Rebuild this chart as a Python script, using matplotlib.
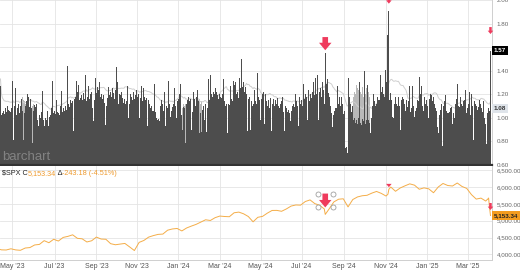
import numpy as np
import pandas as pd
import matplotlib
matplotlib.use("Agg")
import matplotlib.pyplot as plt
from matplotlib.transforms import offset_copy

plt.rcParams['font.family'] = ['Liberation Sans', 'DejaVu Sans']

# daily ratio bars (one per weekday, ending on the last date)
ratio = [
    # Apr - Jul '23
    1.27, 1.02, 1.04, 1.06, 1.03, 1.08, 1.05, 1.10, 1.07, 1.04, 1.06,
    1.05, 1.08, 1.31, 0.81, 1.10, 1.25, 1.02, 1.08, 1.12, 1.04,
    1.10, 1.16, 1.06, 0.81, 1.04, 1.10, 1.14, 1.20, 1.18, 1.12, 1.09,
    1.16, 1.08, 0.79, 1.06, 1.11, 1.09, 1.12, 0.98, 0.93, 1.02,
    1.00, 1.05, 1.23, 0.98, 0.93, 1.00, 0.98, 1.06, 0.97, 0.93, 1.01,
    1.02, 1.08, 1.31, 1.04, 1.06, 1.03, 1.15, 1.05, 1.04, 1.02,
    1.10, 1.23, 1.05, 1.08, 1.06, 1.10, 1.18, 1.07, 1.44, 1.12, 1.09,
    1.15, 1.13, 1.14, 0.89, 1.16, 1.18, 1.31, 1.22, 1.28, 1.15,
    1.17, 1.19, 1.15, 1.21, 1.12, 1.16, 1.36, 1.14, 1.18, 1.27, 1.16,
    1.20, 1.22, 1.08, 0.97, 1.15, 1.34, 1.21, 1.26, 1.24, 1.30,
    1.18, 1.20, 1.16, 1.19, 1.15, 1.13, 0.94, 1.10, 1.17, 1.26, 1.19,
    1.22, 1.18, 1.25, 1.21, 1.16, 1.24, 1.43, 1.30, 1.12, 1.20, 1.19, 1.22, 1.17,
    # Oct '23 - Feb '24
    1.15, 1.13, 1.16, 1.12, 1.14, 1.27, 1.00, 1.12, 1.20, 1.18, 1.15,
    1.22, 1.16, 1.19, 1.24, 1.18, 1.20, 1.00, 1.17, 1.27, 1.16,
    1.14, 1.25, 1.18, 1.15, 1.17, 0.93, 1.15, 1.12, 1.08, 1.10, 1.06,
    1.06, 1.29, 1.05, 1.00, 0.98, 0.99, 0.97, 1.01, 1.10, 1.15,
    1.12, 1.06, 1.22, 0.93, 1.10, 1.08, 1.31, 1.12, 1.01, 1.06, 1.09,
    1.12, 1.25, 1.10, 1.00, 1.14, 1.16, 1.18, 1.20, 1.29, 1.02,
    0.90, 1.09, 1.08, 0.79, 1.12, 1.15, 1.18, 1.14, 1.16, 0.90, 1.05,
    1.22, 1.16, 1.10, 1.18, 1.06, 1.24, 1.14, 0.87, 1.04, 0.88,
    1.07, 1.10, 0.98, 1.12, 0.88, 1.08, 1.33, 1.15, 1.36, 1.20, 1.18,
    1.22, 1.20, 1.25, 1.18, 1.22, 1.19, 1.16, 1.20, 1.18, 1.17,
    1.20, 1.33, 1.14, 1.10, 1.12, 0.87, 1.12, 1.11, 1.27, 1.16, 1.14,
    1.31, 1.28, 1.05, 1.30, 1.20, 1.22, 1.17, 1.34, 1.25, 1.50, 1.26, 1.30, 1.22,
    # Mar - Sep '24
    1.26, 1.20, 0.89, 1.16, 1.18, 0.90, 1.14, 1.10, 1.12, 1.24, 1.15,
    1.14, 1.12, 1.38, 1.18, 1.15, 0.98, 1.16, 1.20, 1.22, 0.95,
    1.20, 1.14, 1.10, 1.15, 1.08, 1.17, 0.89, 1.12, 1.16, 0.93, 1.10,
    1.15, 1.12, 1.17, 1.10, 1.08, 1.12, 1.14, 1.18, 1.05, 0.89,
    1.10, 1.08, 1.05, 1.07, 1.04, 0.97, 1.06, 1.08, 1.10, 1.12, 1.09,
    1.20, 1.14, 1.10, 0.93, 1.18, 1.12, 1.15, 1.10, 1.29, 1.16,
    1.20, 1.18, 0.98, 1.24, 1.14, 1.20, 1.17, 1.16, 1.22, 1.30, 1.19,
    1.34, 1.20, 1.36, 0.98, 1.22, 1.25, 1.18, 1.30, 1.24, 1.12, 1.55,
    1.29, 1.33, 1.21, 1.18, 1.06, 1.10, 1.04, 0.92, 1.02, 1.06, 1.08,
    1.08, 1.27, 1.12, 1.18, 1.10, 1.18, 1.12, 1.03, 1.06, 0.74,
    0.75, 0.70, 1.34, 1.30, 1.18, 1.12, 1.05, 1.10, 0.98, 1.00, 0.96,
    0.98, 0.95, 1.00, 1.30, 0.96, 0.94, 0.99, 0.97, 1.40, 0.95, 0.98, 0.96, 1.28,
    # Oct '24 - Apr '25
    0.98, 0.96, 0.87, 1.00, 1.10, 1.20, 1.14, 1.10, 1.12, 1.18, 1.15,
    1.15, 1.36, 1.22, 1.26, 1.20, 1.18, 1.41, 1.25, 1.30, 1.70,
    1.91, 1.15, 1.21, 1.15, 1.01, 1.00, 1.12, 1.18, 1.12, 1.10,
    1.18, 1.10, 0.90, 1.15, 1.18, 1.16, 1.12, 1.01, 1.06, 1.15, 1.09,
    1.14, 1.27, 1.05, 1.08, 1.27, 1.10, 1.01, 1.06, 1.08, 1.15,
    1.14, 1.35, 1.20, 1.27, 1.10, 1.06, 1.15, 1.18, 1.12, 1.15, 1.10,
    1.00, 1.16, 1.20, 1.19, 1.14, 1.18, 1.12, 1.08, 1.06, 0.92,
    0.87, 1.02, 1.07, 1.12, 0.76, 0.87, 1.10, 1.14, 1.19, 1.06, 1.04,
    1.04, 1.05, 1.08, 1.09, 0.95, 1.04, 1.00, 1.12, 1.16, 1.29,
    1.10, 1.09, 1.18, 1.12, 0.84, 1.10, 1.14, 1.15, 1.24, 1.04, 1.08,
    1.12, 1.22, 1.02, 1.20, 1.10, 0.81, 1.14, 1.12, 1.10, 1.07, 1.09,
    1.15, 1.10, 1.12, 1.08, 1.05, 1.14, 1.00, 0.95, 0.78, 1.04, 1.08, 1.06, 1.57,
]
end_date = "2025-04-04"
ratio_ma_last = 1.08

# second (light) bar series, shown only on a few stretches
light_starts = ["2023-05-15", "2023-05-31", "2024-01-08", "2024-01-31", "2024-09-16"]
light_vals = [
    [1.16, 1.18, 1.15, 1.14, 1.12],
    [1.10, 1.12],
    [1.08, 1.12, 1.10, 1.12],
    [1.15, 1.16, 1.12, 1.14],
    [1.18, 1.22, 1.20, 1.28, 1.25, 1.24, 1.30, 1.22, 1.20,
     1.26, 1.18, 1.22, 1.20, 1.25, 1.27, 1.20, 1.22, 1.18],
]

# S&P 500 weekly closes (Fridays) plus a few daily points
spx_weekly = [
    4137, 4133, 4169, 4136, 4124, 4191, 4205, 4282, 4298, 4409, 4348, 4450,
    4398, 4505, 4536, 4582, 4478, 4464, 4370, 4406, 4515, 4457, 4450, 4320,
    4288, 4308, 4327, 4224, 4117, 4358, 4415, 4514, 4559, 4595, 4604, 4719,
    4755, 4770,
    4697, 4784, 4840, 4891, 4959, 5027, 5006, 5089, 5137, 5124, 5117, 5234,
    5254, 5204, 5123, 4967, 5100, 5128, 5223, 5303, 5305, 5278, 5347, 5432,
    5465, 5460, 5567, 5615, 5505, 5459, 5347, 5344, 5554, 5635, 5648, 5408,
    5626, 5703, 5738, 5751, 5815, 5865, 5808, 5729, 5996, 5870, 5969, 6032,
    6090, 6051, 5930, 5971,
    5942, 5827, 5997, 6101, 6041, 6026, 6115, 6013, 5955, 5770, 5639, 5668,
    5581, 5153.34,
]
spx_extra_dates = ["2023-04-13", "2024-08-05", "2024-11-05", "2024-11-06",
                   "2025-03-31", "2025-04-01", "2025-04-02", "2025-04-03"]
spx_extra_vals = [4146, 5186, 5783, 5929, 5612, 5633, 5671, 5397]
spx_last = 5153.34
spx_chg = -243.18
spx_pct = -4.51

events = ["2024-08-05", "2024-11-06", "2025-04-04"]

month_starts = ["2023-05-01", "2023-07-01", "2023-09-01", "2023-11-01",
                "2024-01-01", "2024-03-01", "2024-05-01", "2024-07-01",
                "2024-09-01", "2024-11-01", "2025-01-01", "2025-03-01"]
month_labels = ["May '23", "Jul '23", "Sep '23", "Nov '23", "Jan '24", "Mar '24",
                "May '24", "Jul '24", "Sep '24", "Nov '24", "Jan '25", "Mar '25"]
top_ticks = [0.6, 0.8, 1.0, 1.2, 1.4, 1.6, 1.8, 2.0]
bottom_ticks = [4000, 4500, 5000, 5500, 6000, 6500]

dark = "#4d4d4d"
light = "#b9b9b9"
orange = "#f4ad48"
red = "#ef3b5d"
grid_c = "#e4e4e4"

dates = pd.bdate_range(end=end_date, periods=len(ratio))
x = np.arange(len(dates))


def pos(d):
    return int(dates.searchsorted(pd.Timestamp(d)))


spx = pd.Series(spx_weekly, index=pd.date_range("2023-04-14", end_date, freq="W-FRI"))
spx = pd.concat([spx, pd.Series(spx_extra_vals, index=pd.to_datetime(spx_extra_dates))]).sort_index()
spx_x = dates.searchsorted(spx.index)

fig = plt.figure(figsize=(5.2, 2.72), dpi=100)
ax1 = fig.add_axes([0, 1 - 165 / 272, 492 / 520, 165 / 272])
ax2 = fig.add_axes([0, 12 / 272, 492 / 520, 94 / 272])

xt = [pos(m) for m in month_starts]

# top panel
for s, vals in zip(light_starts, light_vals):
    i0 = pos(s)
    ax1.bar(np.arange(i0, i0 + len(vals)), vals, width=1.05, color=light, linewidth=0, zorder=1)
ma = pd.Series(ratio).rolling(20, min_periods=1).mean()
ax1.plot(x, ma + 0.06, color="#cfcfcf", lw=0.7, zorder=1.5)
ax1.bar(x, ratio, width=1.05, color=dark, linewidth=0, zorder=2)

ax1.set_xlim(-0.5, len(x) + 0.6)
ax1.set_ylim(0.6, 2.0)
ax1.set_yticks(top_ticks)
ax1.set_yticklabels(["" if abs(v - 1.6) < 1e-9 else f"{v:.2f}" for v in top_ticks])
ax1.set_xticks(xt)
ax1.yaxis.tick_right()
ax1.tick_params(axis="y", length=0, pad=3.2, labelsize=4.5, labelcolor="#666666")
ax1.tick_params(axis="x", length=0, labelbottom=False)
ax1.grid(True, color=grid_c, lw=0.6, zorder=0)
ax1.set_axisbelow(True)
for side in ["top", "left"]:
    ax1.spines[side].set_visible(False)
ax1.spines["right"].set_color("#cfcfcf")
ax1.spines["right"].set_linewidth(0.7)
ax1.spines["bottom"].set_color("#333333")
ax1.spines["bottom"].set_linewidth(1.6)

ax1.text(0.004, 0.012, "barchart", transform=ax1.transAxes, fontsize=9.5,
         color="white", alpha=0.3, va="bottom", ha="left", zorder=5)

yt1 = ax1.get_yaxis_transform()
ax1.text(1.004, ratio[-1], f"{ratio[-1]:.2f}", transform=yt1, fontsize=4.5, color="white",
         fontweight="bold", va="center", ha="left", zorder=6, clip_on=False,
         bbox=dict(boxstyle="square,pad=0.3", fc="black", ec="none"))
ax1.text(1.004, ratio_ma_last, f"{ratio_ma_last:.2f}", transform=yt1, fontsize=4.5,
         color="#333333", fontweight="bold", va="center", ha="left", zorder=6, clip_on=False,
         bbox=dict(boxstyle="square,pad=0.3", fc="#dfe4ea", ec="none"))

# bottom panel
ax2.plot(spx_x, spx.values, color=orange, lw=0.7, zorder=3)
ax2.set_xlim(ax1.get_xlim())
ax2.set_ylim(3837, 6618)
ax2.set_yticks(bottom_ticks)
ax2.set_yticklabels([f"{v:,.2f}" for v in bottom_ticks])
ax2.set_xticks(xt)
ax2.set_xticklabels(month_labels)
ax2.yaxis.tick_right()
ax2.tick_params(axis="y", length=0, pad=3.2, labelsize=4.5, labelcolor="#666666")
ax2.tick_params(axis="x", length=0, pad=2.5, labelsize=5, labelcolor="#555555")
ax2.grid(True, color=grid_c, lw=0.6, zorder=0)
ax2.set_axisbelow(True)
for side in ["top", "left"]:
    ax2.spines[side].set_visible(False)
for side in ["right", "bottom"]:
    ax2.spines[side].set_color("#cfcfcf")
    ax2.spines[side].set_linewidth(0.7)

yt2 = ax2.get_yaxis_transform()
ax2.text(1.004, spx_last, f"{spx_last:,.2f}", transform=yt2, fontsize=4.5, color="#222222",
         fontweight="bold", va="center", ha="left", zorder=6, clip_on=False,
         bbox=dict(boxstyle="square,pad=0.3", fc="#f39c1f", ec="none"))

parts = [(r"\$SPX C", "#222222"), (f"{spx_last:,.2f}", "#ee9a2e"), (" Δ", "#222222"),
         (f"{spx_chg:,.2f} ({spx_pct:.2f}%)", "#ee9a2e")]
t = ax2.text(0.004, 0.925, parts[0][0], color=parts[0][1], transform=ax2.transAxes,
             fontsize=5.2, va="center", ha="left")
for s, c in parts[1:]:
    t = ax2.annotate(s, xy=(1, 0), xycoords=t, va="bottom", ha="left", color=c, fontsize=5.2)


def down_arrow(ax, i, v, gap, length, scale):
    ax.annotate("", xy=(i, v), xytext=(0, gap + length), textcoords="offset points",
                annotation_clip=False, zorder=7,
                arrowprops=dict(arrowstyle="simple,head_length=0.6,head_width=1.0,tail_width=0.45",
                                mutation_scale=scale, color=red, lw=0, shrinkA=0, shrinkB=gap))


spx_daily = np.interp(x, spx_x, spx.values)
big = pos(events[0])
down_arrow(ax1, big, ratio[big], 2, 9.5, 9)
i = pos(events[1])
down_arrow(ax1, i, ratio[i], 5, 8, 4)
i = pos(events[2])
down_arrow(ax1, i, ratio[i], 12, 5, 4)

down_arrow(ax2, big, spx_daily[big], 5, 10, 9)
i = pos(events[1])
down_arrow(ax2, i, spx_daily[i], -1.5, 5, 4)
i = pos(events[2])
down_arrow(ax2, i, spx_daily[i], 4, 5, 4)

for dx in (-5.4, 5.4):
    for dy in (5, 15):
        tr = offset_copy(ax2.transData, fig=fig, x=dx, y=dy, units="points")
        ax2.plot([big], [spx_daily[big]], marker="o", ms=3.6, mfc="white", mec="#a0a0a0",
                 mew=0.6, transform=tr, zorder=6, clip_on=False)

fig.savefig("out.png", dpi=100)
